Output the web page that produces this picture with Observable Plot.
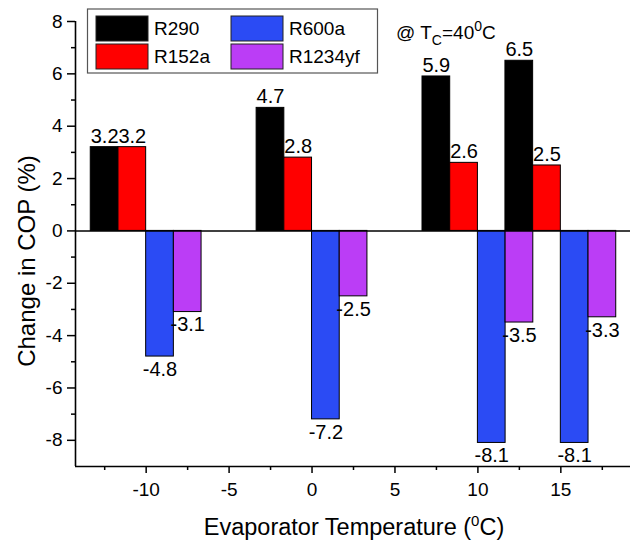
<!DOCTYPE html>
<html><head><meta charset="utf-8">
<script src="https://cdn.jsdelivr.net/npm/d3@7"></script>
<script src="https://cdn.jsdelivr.net/npm/@observablehq/plot@0.6"></script>
<style>
body{margin:0;background:#fff}
#chart{width:640px;height:547px}
</style>
</head><body><div id="chart"></div>
<script>
// ---- data ----
const temps = [-10, 0, 10, 15];
const refrigerants = ["R290", "R152a", "R600a", "R1234yf"];
const R290 = [3.2, 4.7, 5.9, 6.5];
const R152a = [3.2, 2.8, 2.6, 2.5];
const R600a = [-4.8, -7.2, -8.1, -8.1];
const R1234yf = [-3.1, -2.5, -3.5, -3.3];
const colors = ["#000000", "#ff0000", "#2b4bf4", "#bb3df6"];
const xTicks = [-10, -5, 0, 5, 10, 15];
const xMinorTicks = [-12.5, -7.5, -2.5, 2.5, 7.5, 12.5, 17.5];
const yTicks = [-8, -6, -4, -2, 0, 2, 4, 6, 8];
const yMinorTicks = [-7, -5, -3, -1, 1, 3, 5, 7];
const xDomain = [-14.26, 19.2];
const yDomain = [-9, 8];
const barWidth = 1.67;

const series = [R290, R152a, R600a, R1234yf];
const rows = temps.flatMap((t, gi) => refrigerants.map((name, si) => ({
  t, name, si, value: series[si][gi], color: colors[si]
})));
const x1 = d => d.t + (d.si - 2) * barWidth;
const x2 = d => d.t + (d.si - 1) * barWidth;
const xc = d => d.t + (d.si - 1.5) * barWidth;
const fmt = d => String(d);
const font = "'Liberation Sans', Arial, sans-serif";

const plot = Plot.plot({
  width: 640, height: 547,
  marginLeft: 75, marginRight: 10, marginTop: 21, marginBottom: 81,
  x: {domain: xDomain},
  y: {domain: yDomain},
  style: {fontFamily: font, fontSize: "19px", color: "black", background: "white"},
  marks: [
    Plot.rect(rows, {x1, x2, y1: 0, y2: "value", fill: "color", stroke: "black", strokeWidth: 1}),
    Plot.ruleY([0], {stroke: "black", strokeWidth: 1.5}),
    Plot.ruleX([xDomain[0]], {stroke: "black", strokeWidth: 1.6}),
    Plot.ruleY([yDomain[0]], {stroke: "black", strokeWidth: 1.6}),
    Plot.axisX({ticks: xTicks, tickSize: 7, tickPadding: 9, tickFormat: fmt, label: null, fontSize: 19, strokeWidth: 1.5}),
    Plot.axisX({ticks: xMinorTicks, tickSize: 4, fill: "none", label: null, strokeWidth: 1.5}),
    Plot.axisY({ticks: yTicks, tickSize: 8, tickPadding: 5, tickFormat: fmt, label: null, fontSize: 19, strokeWidth: 1.5}),
    Plot.axisY({ticks: yMinorTicks, tickSize: 4, fill: "none", label: null, strokeWidth: 1.5}),
    Plot.text(rows.filter(d => d.value >= 0), {x: xc, y: "value", text: d => fmt(d.value), dy: -11, fontSize: 20, fill: "black"}),
    Plot.text(rows.filter(d => d.value < 0), {x: xc, y: "value", text: d => fmt(d.value), dy: 13, fontSize: 20, fill: "black"})
  ]
});
document.getElementById("chart").appendChild(plot);

const svg = d3.select(plot);

// y axis title
svg.append("text")
  .attr("transform", "translate(35,261) rotate(-90)")
  .attr("text-anchor", "middle")
  .attr("font-family", font).attr("font-size", 24).attr("fill", "black")
  .text("Change in COP (%)");

// x axis title
const xt = svg.append("text")
  .attr("x", 354).attr("y", 535)
  .attr("text-anchor", "middle")
  .attr("font-family", font).attr("font-size", 23.5).attr("fill", "black");
xt.append("tspan").text("Evaporator Temperature (");
xt.append("tspan").attr("font-size", 15).attr("dy", -9).text("0");
xt.append("tspan").attr("dy", 9).text("C)");

// legend
const lg = svg.append("g").attr("font-family", font).attr("font-size", 19).attr("text-anchor", "start");
lg.append("rect").attr("x", 87.5).attr("y", 9).attr("width", 290).attr("height", 64)
  .attr("fill", "white").attr("stroke", "#555").attr("stroke-width", 1.2);
refrigerants.forEach((name, i) => {
  const col = i < 2 ? 0 : 1, row = i % 2;
  const sx = 96 + col * 135, sy = 16 + row * 28;
  lg.append("rect").attr("x", sx).attr("y", sy).attr("width", 52).attr("height", 25)
    .attr("fill", colors[i]).attr("stroke", "#222").attr("stroke-width", 1);
  lg.append("text").attr("x", sx + 58).attr("y", sy + 12.5).attr("dy", "0.35em")
    .attr("text-anchor", "start").attr("fill", "black").text(name);
});

// annotation
const an = svg.append("text").attr("x", 396).attr("y", 39)
  .attr("text-anchor", "start")
  .attr("font-family", font).attr("font-size", 19).attr("fill", "black");
an.append("tspan").text("@ T");
an.append("tspan").attr("font-size", 14).attr("dy", 6).text("C");
an.append("tspan").attr("dy", -6).text("=40");
an.append("tspan").attr("font-size", 14).attr("dy", -8).text("0");
an.append("tspan").attr("dy", 8).text("C");
</script>
</body></html>
